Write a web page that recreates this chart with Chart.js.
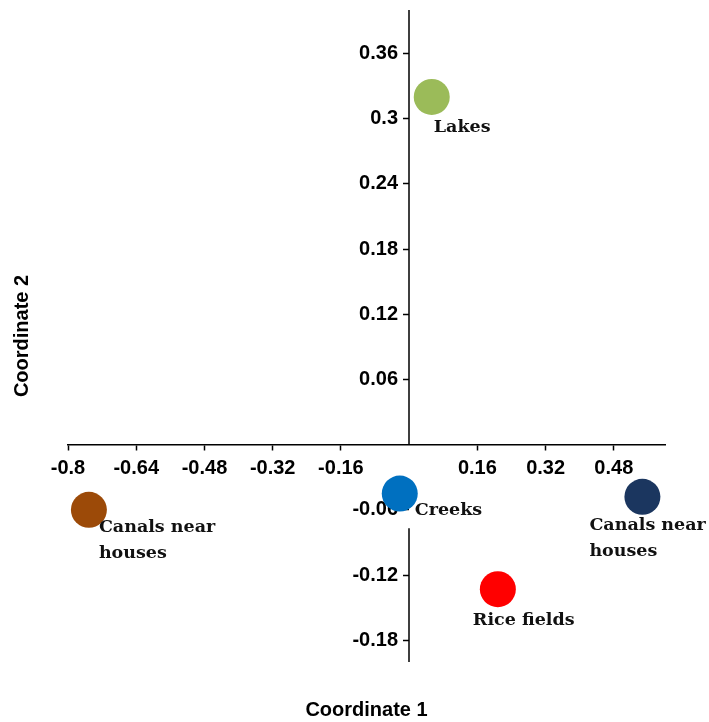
<!DOCTYPE html>
<html>
<head>
<meta charset="utf-8">
<script src="https://cdn.jsdelivr.net/npm/chart.js@4/dist/chart.umd.min.js"></script>
<style>
html,body{margin:0;padding:0;background:#fff;overflow:hidden;}
#wrap{width:709px;height:722px;position:relative;overflow:hidden;}
#c{position:absolute;left:0;top:-8px;}
</style>
</head>
<body>
<div id="wrap"><canvas id="c" width="709" height="730"></canvas></div>
<script>
const siteNames = ["Lakes", "Canals near houses", "Creeks", "Rice fields", "Canals near houses"];
const coord1 = [0.053, -0.751, -0.022, 0.208, 0.547];
const coord2 = [0.320, -0.060, -0.045, -0.133, -0.048];
const siteColors = ["#9BBB59", "#9C4A08", "#0070C0", "#FF0000", "#1B365F"];
const xTicks = [-0.8, -0.64, -0.48, -0.32, -0.16, 0.16, 0.32, 0.48];
const yTicks = [-0.18, -0.12, -0.06, 0.06, 0.12, 0.18, 0.24, 0.3, 0.36];
const xTitle = "Coordinate 1";
const yTitle = "Coordinate 2";

// label placement relative to each point (px) and line breaks
const labelLines = [["Lakes"], ["Canals near", "houses"], ["Creeks"], ["Rice fields"], ["Canals near", "houses"]];
const labelOffsets = [[2, 31], [10, 18], [15, 17], [-25, 31], [-53, 29]];
// the vertical axis line is interrupted just below the horizontal axis in the original
const yAxisGap = [0, -0.077];

const axisFont = '"Liberation Sans", Arial, sans-serif';

const decorations = {
  id: 'decorations',
  beforeDatasetsDraw(chart) {
    const ctx = chart.ctx;
    const xs = chart.scales.x, ys = chart.scales.y;
    const x0 = Math.round(xs.getPixelForValue(0));
    ctx.save();
    ctx.strokeStyle = '#000';
    ctx.lineWidth = 1.5;
    ctx.beginPath();
    ctx.moveTo(x0, ys.getPixelForValue(ys.max));
    ctx.lineTo(x0, ys.getPixelForValue(yAxisGap[0]));
    ctx.moveTo(x0, ys.getPixelForValue(yAxisGap[1]));
    ctx.lineTo(x0, ys.getPixelForValue(ys.min));
    ctx.stroke();
    ctx.restore();
  },
  afterDatasetsDraw(chart) {
    const ctx = chart.ctx;
    const meta = chart.getDatasetMeta(0);
    const area = chart.chartArea;
    ctx.save();
    ctx.font = 'bold 17.5px "DejaVu Serif"';
    ctx.fillStyle = '#111';
    ctx.textAlign = 'left';
    ctx.textBaseline = 'middle';
    meta.data.forEach((el, i) => {
      const [dx, dy] = labelOffsets[i];
      labelLines[i].forEach((ln, k) => {
        ctx.fillText(ln, el.x + dx, el.y + dy + k * 26);
      });
    });
    // axis titles
    ctx.font = 'bold 20px ' + axisFont;
    ctx.fillStyle = '#000';
    ctx.textAlign = 'center';
    ctx.fillText(xTitle, (area.left + area.right) / 2, area.bottom + 48);
    ctx.translate(22, (area.top + area.bottom) / 2);
    ctx.rotate(-Math.PI / 2);
    ctx.fillText(yTitle, 0, 0);
    ctx.restore();
  }
};

new Chart(document.getElementById('c'), {
  type: 'scatter',
  data: {
    datasets: [{
      data: coord1.map((x, i) => ({ x: x, y: coord2[i] })),
      backgroundColor: siteColors,
      borderColor: siteColors,
      pointRadius: 18,
      pointHoverRadius: 18,
      borderWidth: 0,
      clip: false
    }]
  },
  options: {
    responsive: false,
    animation: false,
    events: [],
    layout: { padding: { top: 10, right: 44, bottom: 60, left: 68 } },
    plugins: {
      legend: { display: false },
      tooltip: { enabled: false },
      title: { display: false }
    },
    scales: {
      x: {
        type: 'linear',
        min: -0.8,
        max: 0.6,
        position: { y: 0 },
        afterBuildTicks: (s) => { s.ticks = xTicks.map(v => ({ value: v })); },
        ticks: {
          color: '#000',
          font: { family: axisFont, size: 20, weight: 'bold' },
          padding: 7,
          maxRotation: 0,
          autoSkip: false,
          callback: (v) => String(v)
        },
        grid: { drawOnChartArea: false, drawTicks: true, tickLength: 5, tickColor: '#000', tickWidth: 1.5 },
        border: { display: true, color: '#000', width: 1.5 }
      },
      y: {
        type: 'linear',
        min: -0.2,
        max: 0.4,
        position: { x: 0 },
        afterBuildTicks: (s) => { s.ticks = yTicks.map(v => ({ value: v })); },
        ticks: {
          color: '#000',
          font: { family: axisFont, size: 20, weight: 'bold' },
          padding: 6,
          autoSkip: false,
          callback: (v) => String(v) + '  '
        },
        grid: { drawOnChartArea: false, drawTicks: true, tickLength: 6, tickColor: '#000', tickWidth: 1.5 },
        border: { display: false }
      }
    }
  },
  plugins: [decorations]
});
</script>
</body>
</html>
